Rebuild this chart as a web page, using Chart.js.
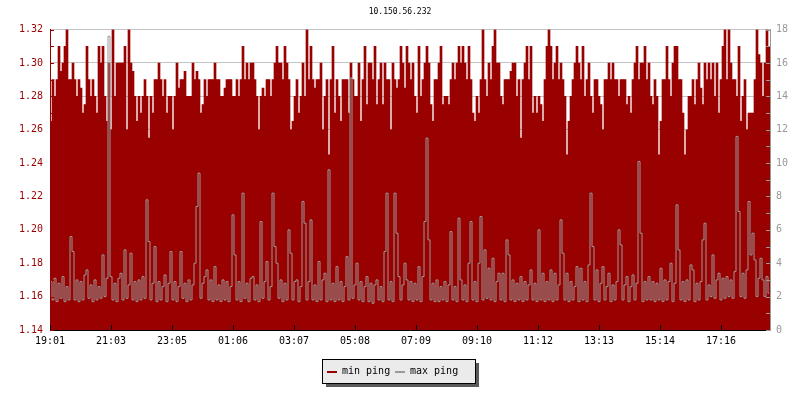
<!DOCTYPE html>
<html>
<head>
<meta charset="utf-8">
<script src="https://cdn.jsdelivr.net/npm/chart.js@4.4.1/dist/chart.umd.min.js"></script>
<style>
  html, body { margin: 0; padding: 0; background: #fff; }
</style>
</head>
<body>
<canvas id="ping" width="800" height="400"></canvas>
<script>
const hostName = '10.150.56.232';

// x tick labels, one every 122 minutes starting 19:01
const timeLabels = ['19:01', '21:03', '23:05', '01:06', '03:07', '05:08', '07:09', '09:10', '11:12', '13:13', '15:14', '17:16'];
const labelEvery = 122;   // minutes between labels
const sampleMinutes = 4;  // minutes per sample
const spanMinutes = 1440;

// min ping (ms), left axis
const minPing = [
  1.265,1.29,1.28,1.29,1.31,1.295,1.30,1.31,1.32,1.29,1.29,1.30,1.29,1.28,1.29,1.285,1.27,1.275,1.31,1.29,1.28,1.29,1.28,1.27,1.31,1.30,1.31,1.28,1.265,1.30,
  1.26,1.32,1.28,1.30,1.30,1.30,1.30,1.31,1.26,1.32,1.30,1.295,1.28,1.265,1.28,1.27,1.28,1.29,1.28,1.255,1.28,1.27,1.29,1.29,1.30,1.29,1.28,1.29,1.27,1.28,
  1.28,1.26,1.28,1.30,1.285,1.29,1.29,1.295,1.28,1.28,1.28,1.30,1.29,1.295,1.29,1.27,1.275,1.29,1.28,1.29,1.29,1.29,1.30,1.29,1.29,1.28,1.28,1.285,1.29,1.29,
  1.29,1.28,1.28,1.29,1.28,1.29,1.31,1.29,1.30,1.29,1.30,1.30,1.29,1.28,1.26,1.28,1.285,1.28,1.29,1.29,1.28,1.29,1.30,1.31,1.30,1.30,1.29,1.31,1.30,1.29,
  1.26,1.265,1.28,1.29,1.27,1.28,1.30,1.28,1.32,1.29,1.31,1.29,1.285,1.29,1.29,1.30,1.26,1.28,1.29,1.245,1.29,1.31,1.27,1.29,1.28,1.265,1.29,1.29,1.29,1.27,
  1.30,1.29,1.28,1.28,1.30,1.265,1.29,1.31,1.275,1.30,1.30,1.29,1.31,1.275,1.29,1.30,1.275,1.30,1.29,1.29,1.26,1.30,1.29,1.285,1.29,1.31,1.30,1.285,1.31,1.30,
  1.29,1.30,1.28,1.27,1.31,1.28,1.29,1.30,1.31,1.30,1.275,1.265,1.29,1.29,1.30,1.31,1.275,1.28,1.28,1.275,1.29,1.30,1.29,1.30,1.31,1.30,1.31,1.30,1.29,1.31,
  1.29,1.27,1.265,1.28,1.27,1.29,1.32,1.29,1.28,1.30,1.29,1.31,1.32,1.30,1.30,1.28,1.275,1.29,1.29,1.29,1.295,1.30,1.30,1.28,1.29,1.255,1.29,1.30,1.31,1.29,
  1.31,1.27,1.28,1.27,1.28,1.275,1.265,1.29,1.31,1.32,1.31,1.29,1.30,1.31,1.29,1.30,1.29,1.28,1.245,1.265,1.28,1.29,1.30,1.31,1.30,1.29,1.31,1.28,1.29,1.30,
  1.28,1.27,1.29,1.29,1.28,1.275,1.26,1.29,1.29,1.30,1.29,1.30,1.29,1.29,1.28,1.29,1.29,1.29,1.275,1.28,1.27,1.29,1.30,1.31,1.29,1.30,1.30,1.31,1.29,1.30,
  1.28,1.275,1.29,1.28,1.245,1.265,1.29,1.29,1.31,1.29,1.28,1.30,1.31,1.31,1.29,1.29,1.27,1.245,1.26,1.28,1.28,1.29,1.275,1.29,1.30,1.285,1.275,1.30,1.29,1.30,
  1.29,1.30,1.28,1.30,1.27,1.29,1.31,1.32,1.29,1.32,1.30,1.29,1.29,1.28,1.31,1.265,1.28,1.29,1.26,1.27,1.27,1.27,1.29,1.32,1.305,1.30,1.28,1.30,1.32,1.31
];

// max ping (ms), right axis
const maxPing = [
  2.9,1.8,3.1,1.7,2.8,1.9,3.2,1.7,2.6,1.8,5.6,4.7,1.8,3.0,1.7,2.9,1.8,3.3,3.6,1.9,2.7,1.7,3.0,1.8,2.6,1.9,4.5,2.0,3.1,17.6,
  3.2,1.8,2.8,1.7,3.1,3.4,1.8,4.8,1.9,2.7,4.6,1.8,2.9,1.7,3.0,1.8,3.2,1.9,7.8,5.3,1.8,2.8,5.0,1.7,2.9,1.8,2.6,3.3,1.7,2.8,
  4.7,1.8,2.9,1.7,2.6,4.7,1.9,2.8,1.7,3.0,1.8,2.7,4.0,7.4,9.4,1.9,2.8,3.2,3.6,1.8,3.0,1.7,3.8,1.8,2.7,1.7,3.0,1.8,2.9,1.7,
  2.6,6.9,4.5,1.8,2.9,1.7,8.2,1.9,2.8,1.7,3.1,3.2,1.8,2.7,1.7,6.5,1.9,2.9,4.1,1.8,2.6,8.2,5.0,4.0,1.9,3.0,1.7,2.8,1.8,6.0,
  4.6,1.8,2.9,3.0,1.7,2.6,7.7,6.4,1.8,2.9,6.6,1.8,2.7,1.7,4.1,1.8,3.0,3.4,1.7,9.6,1.8,2.8,1.7,3.8,1.8,2.9,1.7,2.6,4.4,1.8,
  15.1,1.9,2.7,4.0,1.8,2.9,1.7,2.6,3.2,1.7,2.8,1.6,2.7,3.0,1.8,2.6,1.7,4.7,8.2,1.8,2.9,1.7,8.2,5.8,3.2,1.8,2.7,4.0,3.0,1.8,
  2.9,1.7,2.8,1.8,3.8,1.7,3.2,6.5,11.5,5.4,1.8,2.8,1.7,3.0,1.7,2.6,1.8,2.9,1.7,2.7,5.9,1.8,2.6,1.7,6.7,3.0,1.8,2.7,1.7,4.0,
  6.5,1.8,2.9,1.7,4.0,6.8,1.8,4.8,1.9,3.7,1.8,4.3,1.7,2.9,3.4,1.8,3.4,1.7,5.4,4.5,1.8,3.0,1.7,2.8,1.8,3.2,1.7,2.9,1.8,2.7,
  3.6,1.8,2.8,1.7,6.0,1.8,3.4,1.7,2.9,1.8,3.6,1.7,3.4,1.8,2.7,6.6,4.6,1.8,3.4,1.7,2.9,1.8,2.6,3.8,1.7,3.7,1.8,2.9,1.7,3.9,
  8.2,5.0,1.8,3.6,1.7,2.8,3.8,1.8,2.6,3.4,1.7,2.7,1.8,2.9,6.0,5.1,1.8,2.7,3.2,1.7,2.6,3.3,1.8,2.8,10.1,5.8,1.7,2.9,1.8,3.2,
  1.8,2.9,1.7,2.8,1.8,3.7,1.7,3.0,1.8,2.9,4.0,1.7,2.8,7.5,4.8,1.8,2.9,1.7,3.0,1.8,3.9,3.6,1.7,2.8,1.8,2.9,5.4,6.4,1.8,2.7,
  2.0,4.5,1.9,3.0,3.4,1.8,3.1,1.9,3.2,2.0,3.0,1.9,3.5,11.6,7.1,2.0,3.4,1.9,3.6,7.7,4.5,5.8,4.2,2.0,3.1,4.3,3.0,2.0,3.2,2.2
];

const RED = '#990000';
const GREY = '#999999';
const GRID = '#c4c4c4';
const FONT = 'DejaVu Sans Mono';

const toPoints = (arr) => arr.map((v, i) => ({ x: i * sampleMinutes + sampleMinutes / 2, y: v }));

// rrd style bits: inner tick marks and the boxed legend
const rrdDecor = {
  id: 'rrdDecor',
  afterDraw(chart) {
    const ctx = chart.ctx;
    const { x, y, y1 } = chart.scales;
    const area = chart.chartArea;
    ctx.save();
    ctx.lineWidth = 1;

    ctx.strokeStyle = '#000';
    x.ticks.forEach((t) => {
      const px = Math.round(x.getPixelForValue(t.value)) + 0.5;
      ctx.beginPath();
      ctx.moveTo(px, area.bottom);
      ctx.lineTo(px, area.bottom - 5);
      ctx.stroke();
    });

    ctx.strokeStyle = RED;
    for (let k = 0; k <= 18; k++) {
      const py = Math.round(y.getPixelForValue(y.min + k * 0.01)) + 0.5;
      ctx.beginPath();
      ctx.moveTo(area.left, py);
      ctx.lineTo(area.left + 4, py);
      ctx.stroke();
    }

    ctx.strokeStyle = GREY;
    for (let k = 0; k <= 18; k++) {
      const py = Math.round(y1.getPixelForValue(k)) + 0.5;
      ctx.beginPath();
      ctx.moveTo(area.right - 4, py);
      ctx.lineTo(area.right, py);
      ctx.stroke();
    }

    // legend box
    const bx = 322, by = 359, bw = 153, bh = 24;
    ctx.fillStyle = '#5a5a5a';
    ctx.fillRect(bx + 4, by + 4, bw, bh);
    ctx.fillStyle = '#ebebeb';
    ctx.fillRect(bx, by, bw, bh);
    ctx.strokeStyle = '#000';
    ctx.strokeRect(bx + 0.5, by + 0.5, bw, bh);

    ctx.font = '10px ' + FONT;
    ctx.textBaseline = 'middle';
    ctx.textAlign = 'left';
    const entries = [
      { label: chart.data.datasets[1].label, color: RED, sx: 327 },
      { label: chart.data.datasets[0].label, color: GREY, sx: 395 }
    ];
    entries.forEach((e) => {
      ctx.fillStyle = e.color;
      ctx.fillRect(e.sx, by + 12, 10, 2);
      ctx.fillStyle = '#000';
      ctx.fillText(e.label, e.sx + 15, by + 12);
    });
    ctx.restore();
  }
};

new Chart(document.getElementById('ping'), {
  type: 'bar',
  data: {
    datasets: [
      {
        type: 'line',
        label: 'max ping',
        data: toPoints(maxPing),
        yAxisID: 'y1',
        borderColor: GREY,
        borderWidth: 1,
        pointRadius: 0,
        stepped: 'middle',
        fill: false,
        order: 0
      },
      {
        type: 'bar',
        label: 'min ping',
        data: toPoints(minPing),
        yAxisID: 'y',
        backgroundColor: RED,
        borderWidth: 0,
        barPercentage: 1,
        categoryPercentage: 1,
        order: 1
      }
    ]
  },
  options: {
    responsive: false,
    animation: false,
    devicePixelRatio: 1,
    layout: { padding: 0 },
    plugins: {
      legend: { display: false },
      tooltip: { enabled: false },
      title: {
        display: true,
        text: hostName,
        color: '#000',
        font: { family: FONT, size: 8, weight: 'normal' },
        padding: { top: 7, bottom: 13 }
      }
    },
    scales: {
      x: {
        type: 'linear',
        min: 0,
        max: spanMinutes,
        offset: false,
        grid: { display: false, drawTicks: false },
        border: { display: true, color: '#000', z: 1 },
        afterBuildTicks: (scale) => {
          scale.ticks = timeLabels.map((l, k) => ({ value: k * labelEvery }));
        },
        afterFit: (scale) => { scale.height = 70; },
        ticks: {
          autoSkip: false,
          maxRotation: 0,
          padding: 5,
          color: '#000',
          font: { family: FONT, size: 10 },
          callback: (v, i) => timeLabels[i]
        }
      },
      y: {
        position: 'left',
        min: 1.14,
        max: 1.32,
        beginAtZero: false,
        grid: { color: GRID, drawTicks: false },
        border: { display: true, color: RED, z: 1 },
        afterFit: (scale) => { scale.width = 50; },
        ticks: {
          stepSize: 0.02,
          padding: 7,
          color: RED,
          font: { family: FONT, size: 10 },
          callback: (v) => v.toFixed(2)
        }
      },
      y1: {
        position: 'right',
        min: 0,
        max: 18,
        grid: { drawOnChartArea: false, drawTicks: false },
        border: { display: true, color: GREY, z: 1 },
        afterFit: (scale) => { scale.width = 30; },
        ticks: {
          stepSize: 2,
          padding: 6,
          color: GREY,
          font: { family: FONT, size: 10 }
        }
      }
    }
  },
  plugins: [rrdDecor]
});
</script>
</body>
</html>
